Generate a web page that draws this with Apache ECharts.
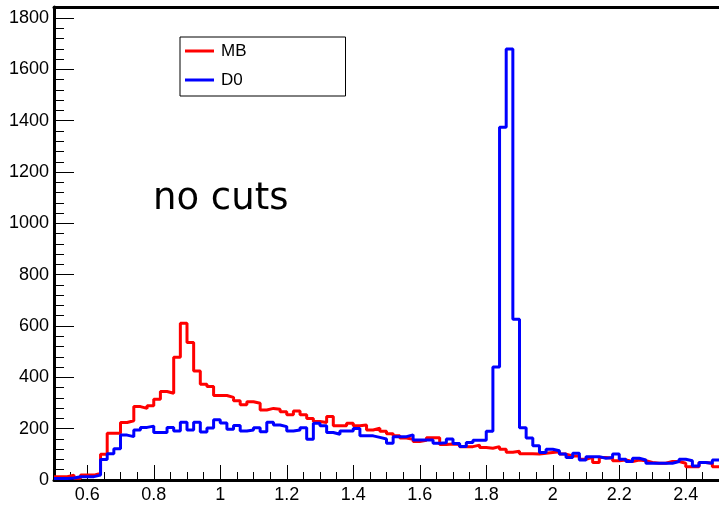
<!DOCTYPE html>
<html>
<head>
<meta charset="utf-8">
<script src="https://cdn.jsdelivr.net/npm/echarts@6/dist/echarts.min.js"></script>
<style>
html, body { margin: 0; padding: 0; background: #ffffff; }
#chart { width: 719px; height: 506px; }
</style>
</head>
<body>
<div id="chart"></div>
<script>
// Histogram binning: 100 bins of width 0.02 starting at 0.5
const histLow = 0.5;
const binWidth = 0.02;

// Minimum-bias sample, counts per bin
const mbCounts = [
  13, 13, 19, 7, 19, 19, 26, 100, 182, 182,
  224, 231, 286, 279, 289, 315, 345, 338, 478, 611,
  536, 425, 373, 364, 329, 329, 322, 309, 293, 305,
  299, 273, 279, 276, 266, 254, 269, 254, 240, 228,
  224, 247, 211, 211, 221, 211, 214, 195, 202, 190,
  180, 172, 164, 159, 150, 155, 165, 165, 138, 140,
  138, 130, 130, 136, 127, 124, 130, 120, 108, 112,
  102, 102, 101, 104, 107, 110, 101, 94, 94, 81,
  88, 68, 88, 85, 75, 78, 72, 78, 75, 68,
  65, 65, 72, 72, 65, 52, 52, 68, 65, 52
];

// D0-triggered sample, counts per bin
const d0Counts = [
  6, 6, 8, 13, 13, 13, 19, 80, 102, 122,
  175, 169, 195, 205, 210, 185, 185, 205, 191, 225,
  195, 225, 187, 203, 235, 222, 198, 212, 191, 195,
  204, 188, 225, 214, 208, 191, 195, 204, 159, 221,
  211, 185, 178, 191, 191, 201, 172, 172, 166, 160,
  143, 169, 169, 176, 156, 156, 156, 143, 145, 160,
  142, 131, 146, 155, 155, 190, 440, 1374, 1679, 626,
  204, 164, 133, 107, 120, 114, 101, 88, 104, 78,
  91, 91, 85, 88, 101, 81, 72, 85, 78, 65,
  65, 65, 65, 72, 81, 75, 55, 68, 65, 78
];

const seriesNames = ['MB', 'D0'];
const seriesColors = ['#ff0000', '#0000ff'];
const annotation = 'no cuts';

// Axis ticks and labels
const xMajorTicks = [0.6, 0.8, 1, 1.2, 1.4, 1.6, 1.8, 2, 2.2, 2.4];
const yMajorTicks = [0, 200, 400, 600, 800, 1000, 1200, 1400, 1600, 1800];
const xRange = [0.5, 2.5];
const yRange = [0, 1843];

// Minor ticks: x every 0.05, y every 40, skipping the major positions
const xMinorTicks = [];
for (let k = 11; k <= 49; k++) {
  if (k % 4 !== 0) xMinorTicks.push(k / 20);
}
const yMinorTicks = [];
for (let v = 40; v < 1843; v += 40) {
  if (v % 200 !== 0) yMinorTicks.push(v);
}

// Step outline through bin edges (last bin closed at the upper edge)
function histPoints(counts) {
  const pts = counts.map((c, i) => [histLow + i * binWidth, c]);
  pts.push([histLow + counts.length * binWidth, counts[counts.length - 1]]);
  return pts;
}

const labelFont = {
  fontFamily: 'Liberation Sans, Arial, Helvetica, sans-serif',
  fontSize: 18,
  color: '#000000'
};

const chart = echarts.init(document.getElementById('chart'), null, { renderer: 'canvas' });

chart.setOption({
  animation: false,
  backgroundColor: '#ffffff',
  title: {
    text: annotation,
    left: 153,
    top: 181,
    padding: 0,
    textStyle: {
      fontFamily: 'DejaVu Sans, sans-serif',
      fontSize: 37,
      fontWeight: 'normal',
      color: '#000000'
    }
  },
  legend: {
    data: seriesNames,
    orient: 'vertical',
    left: 180,
    top: 37,
    icon: 'rect',
    itemWidth: 29,
    itemHeight: 3,
    itemGap: 9,
    padding: [4, 99, 6, 5],
    backgroundColor: '#ffffff',
    borderColor: '#000000',
    borderWidth: 1,
    borderRadius: 0,
    textStyle: {
      fontFamily: 'Liberation Sans, Arial, Helvetica, sans-serif',
      fontSize: 17,
      color: '#000000',
      lineHeight: 20,
      padding: [0, 0, 0, 2]
    }
  },
  grid: {
    left: 54,
    top: 7,
    width: 666,
    bottom: 26,
    containLabel: false
  },
  xAxis: [
    {
      type: 'value',
      min: xRange[0],
      max: xRange[1],
      position: 'bottom',
      axisLine: { show: true, onZero: false, lineStyle: { color: '#000000', width: 3 } },
      axisTick: { show: true, inside: true, length: 15, customValues: xMajorTicks,
                  lineStyle: { color: '#000000', width: 1 } },
      axisLabel: Object.assign({ show: true, margin: 6, customValues: xMajorTicks,
                                 formatter: v => String(v) }, labelFont),
      splitLine: { show: false }
    },
    {
      type: 'value',
      min: xRange[0],
      max: xRange[1],
      position: 'bottom',
      axisLine: { show: false },
      axisTick: { show: true, inside: true, length: 8, customValues: xMinorTicks,
                  lineStyle: { color: '#000000', width: 1 } },
      axisLabel: { show: false },
      splitLine: { show: false }
    },
    {
      type: 'value',
      min: xRange[0],
      max: xRange[1],
      position: 'top',
      axisLine: { show: true, onZero: false, lineStyle: { color: '#000000', width: 3 } },
      axisTick: { show: false },
      axisLabel: { show: false },
      splitLine: { show: false }
    }
  ],
  yAxis: [
    {
      type: 'value',
      min: yRange[0],
      max: yRange[1],
      position: 'left',
      axisLine: { show: true, onZero: false, lineStyle: { color: '#000000', width: 3 } },
      axisTick: { show: true, inside: true, length: 20, customValues: yMajorTicks,
                  lineStyle: { color: '#000000', width: 1 } },
      axisLabel: Object.assign({ show: true, margin: 5, customValues: yMajorTicks,
                                 formatter: v => String(v) }, labelFont),
      splitLine: { show: false }
    },
    {
      type: 'value',
      min: yRange[0],
      max: yRange[1],
      position: 'left',
      axisLine: { show: false },
      axisTick: { show: true, inside: true, length: 10, customValues: yMinorTicks,
                  lineStyle: { color: '#000000', width: 1 } },
      axisLabel: { show: false },
      splitLine: { show: false }
    }
  ],
  series: [
    {
      name: seriesNames[0],
      type: 'line',
      step: 'end',
      xAxisIndex: 0,
      yAxisIndex: 0,
      showSymbol: false,
      symbol: 'none',
      color: seriesColors[0],
      lineStyle: { color: seriesColors[0], width: 3 },
      data: histPoints(mbCounts)
    },
    {
      name: seriesNames[1],
      type: 'line',
      step: 'end',
      xAxisIndex: 0,
      yAxisIndex: 0,
      showSymbol: false,
      symbol: 'none',
      color: seriesColors[1],
      lineStyle: { color: seriesColors[1], width: 3 },
      data: histPoints(d0Counts)
    }
  ]
});
</script>
</body>
</html>
